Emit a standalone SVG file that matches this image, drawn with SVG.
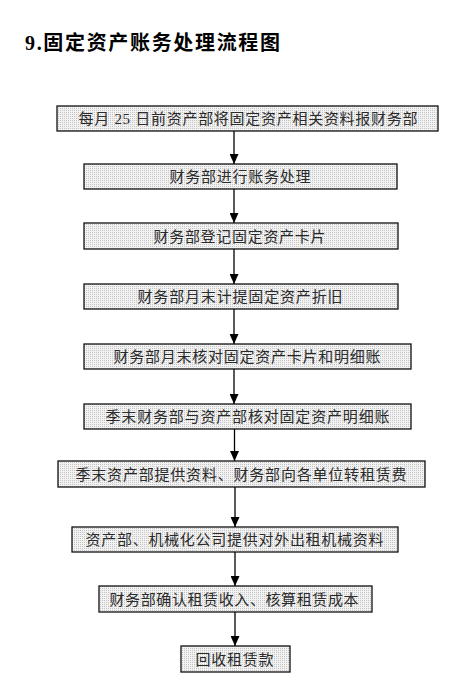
<svg xmlns="http://www.w3.org/2000/svg" width="472" height="695" viewBox="0 0 472 695">
<style>
.box{fill:url(#dots);stroke:#111;stroke-width:1.3}
.lbl{font-family:"Liberation Serif","Noto Sans CJK SC",serif;font-size:15px;fill:#2a2a2a;text-anchor:middle}
.title{font-family:"Liberation Serif","Noto Sans CJK SC",serif;font-size:20px;font-weight:bold;fill:#000}
.conn line{stroke:#000;stroke-width:1.3;marker-end:url(#arr)}
</style>
<defs>
<pattern id="dots" width="2" height="2" patternUnits="userSpaceOnUse">
<rect width="2" height="2" fill="#f2f2f2"/>
<rect width="1" height="1" fill="#c4c4c4"/>
</pattern>
<marker id="arr" markerUnits="userSpaceOnUse" markerWidth="10" markerHeight="9" refX="10" refY="4.5" orient="auto">
<path d="M0,0 L10,4.5 L0,9 z" fill="#000"/>
</marker>
</defs>
<rect width="472" height="695" fill="#fff"/>
<text class="title" x="25" y="50" textLength="255" lengthAdjust="spacing">9.固定资产账务处理流程图</text>
<g class="conn">
<line x1="234" y1="131" x2="234" y2="164"/>
<line x1="234" y1="189" x2="234" y2="223"/>
<line x1="234" y1="249" x2="234" y2="284"/>
<line x1="234" y1="309" x2="234" y2="344"/>
<line x1="234" y1="369" x2="234" y2="404"/>
<line x1="234.5" y1="429" x2="234.5" y2="461"/>
<line x1="235" y1="487" x2="235" y2="527"/>
<line x1="235" y1="552" x2="235" y2="586"/>
<line x1="235" y1="612" x2="235" y2="646"/>
</g>
<g id="n1"><rect class="box" x="57" y="106" width="381" height="25"/><text class="lbl" x="248" y="124" textLength="339" lengthAdjust="spacing">每月 25 日前资产部将固定资产相关资料报财务部</text></g>
<g id="n2"><rect class="box" x="84" y="164" width="313" height="25"/><text class="lbl" x="240" y="182" textLength="141" lengthAdjust="spacing">财务部进行账务处理</text></g>
<g id="n3"><rect class="box" x="84" y="223" width="314" height="26"/><text class="lbl" x="239.5" y="241.5" textLength="172" lengthAdjust="spacing">财务部登记固定资产卡片</text></g>
<g id="n4"><rect class="box" x="84" y="284" width="314" height="25"/><text class="lbl" x="240" y="302" textLength="205" lengthAdjust="spacing">财务部月末计提固定资产折旧</text></g>
<g id="n5"><rect class="box" x="84" y="344" width="327" height="25"/><text class="lbl" x="247" y="362" textLength="267" lengthAdjust="spacing">财务部月末核对固定资产卡片和明细账</text></g>
<g id="n6"><rect class="box" x="84" y="404" width="327" height="25"/><text class="lbl" x="247.5" y="422" textLength="284" lengthAdjust="spacing">季末财务部与资产部核对固定资产明细账</text></g>
<g id="n7"><rect class="box" x="58" y="461" width="367" height="26"/><text class="lbl" x="241" y="479.5" textLength="331" lengthAdjust="spacing">季末资产部提供资料、财务部向各单位转租赁费</text></g>
<g id="n8"><rect class="box" x="72" y="527" width="326" height="25"/><text class="lbl" x="234.5" y="545" textLength="298" lengthAdjust="spacing">资产部、机械化公司提供对外出租机械资料</text></g>
<g id="n9"><rect class="box" x="99" y="586" width="273" height="26"/><text class="lbl" x="234" y="604.5" textLength="249" lengthAdjust="spacing">财务部确认租赁收入、核算租赁成本</text></g>
<g id="n10"><rect class="box" x="181" y="646" width="109" height="26"/><text class="lbl" x="234.5" y="664.5" textLength="78" lengthAdjust="spacing">回收租赁款</text></g>
</svg>
